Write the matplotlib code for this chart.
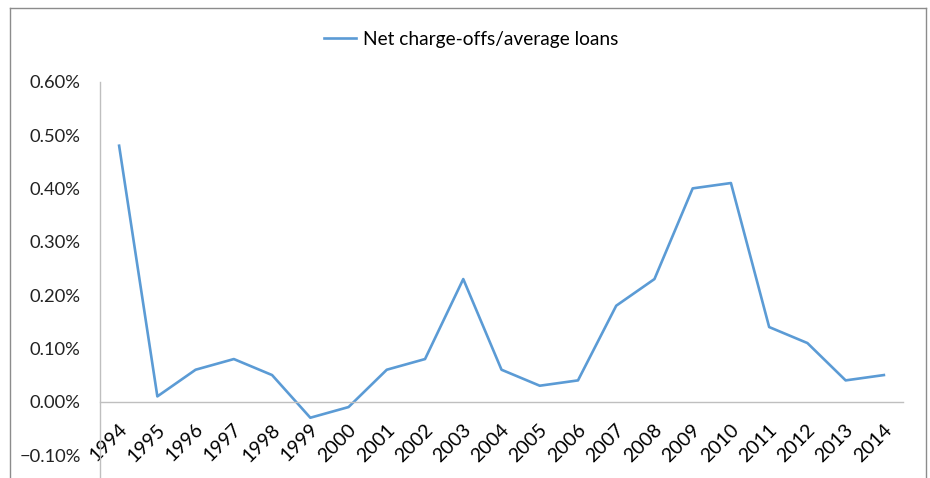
import matplotlib.pyplot as plt
from matplotlib.lines import Line2D
from matplotlib.ticker import PercentFormatter
import matplotlib.transforms as mtransforms

# Net charge-offs as a share of average loans, by year
years = [str(y) for y in range(1994, 2015)]
charge_offs = [0.48, 0.01, 0.06, 0.08, 0.05, -0.03, -0.01, 0.06, 0.08, 0.23,
               0.06, 0.03, 0.04, 0.18, 0.23, 0.40, 0.41, 0.14, 0.11, 0.04, 0.05]
y_ticks = [-0.10, 0.0, 0.10, 0.20, 0.30, 0.40, 0.50, 0.60]

plt.rcParams['font.family'] = ['Lato', 'DejaVu Sans']

W, H = 930, 478
fig = plt.figure(figsize=(W / 100, H / 100), dpi=100)
ax = fig.add_axes([100 / W, 0, 803 / W, 1 - 81.7 / H])

x = list(range(len(years)))
ax.plot(x, charge_offs, color='#5B9BD5', lw=1.9, label='Net charge-offs/average loans')

ax.set_xlim(-0.5, len(years) - 0.5)
ax.set_ylim(-0.143, 0.60)
ax.set_yticks(y_ticks)
ax.yaxis.set_major_formatter(PercentFormatter(decimals=2))

# horizontal axis sits on zero, Excel style
ax.spines['bottom'].set_position(('data', 0))
for s in ['top', 'right']:
    ax.spines[s].set_visible(False)
for s in ['bottom', 'left']:
    ax.spines[s].set_color('#BFBFBF')
    ax.spines[s].set_linewidth(1.0)

ax.set_xticks(x)
ax.set_xticklabels(years)
ax.tick_params(axis='x', length=0, pad=18, labelsize=14, colors='#000000')
ax.tick_params(axis='y', length=0, pad=14, labelsize=13.2, colors='#222222')
shift = mtransforms.ScaledTranslation(5 / 100, 0, fig.dpi_scale_trans)
for lbl in ax.get_xticklabels():
    lbl.set_rotation(45)
    lbl.set_ha('right')
    lbl.set_va('center')
    lbl.set_rotation_mode('anchor')
    lbl.set_transform(lbl.get_transform() + shift)

leg = fig.legend(loc='center', bbox_to_anchor=(471 / W, 1 - 39 / H), frameon=False,
                 fontsize=13.8, handlelength=1.7, handletextpad=0.35)

# chart frame (bottom edge falls outside the image)
fr = dict(color='#8C8C8C', lw=1.0, transform=fig.transFigure)
fig.add_artist(Line2D([9.5 / W, 9.5 / W], [0, 1 - 7.5 / H], **fr))
fig.add_artist(Line2D([9.5 / W, 926 / W], [1 - 7.5 / H, 1 - 7.5 / H], **fr))
fig.add_artist(Line2D([926 / W, 926 / W], [0, 1 - 7.5 / H], **fr))

fig.savefig('out.png', dpi=100)
